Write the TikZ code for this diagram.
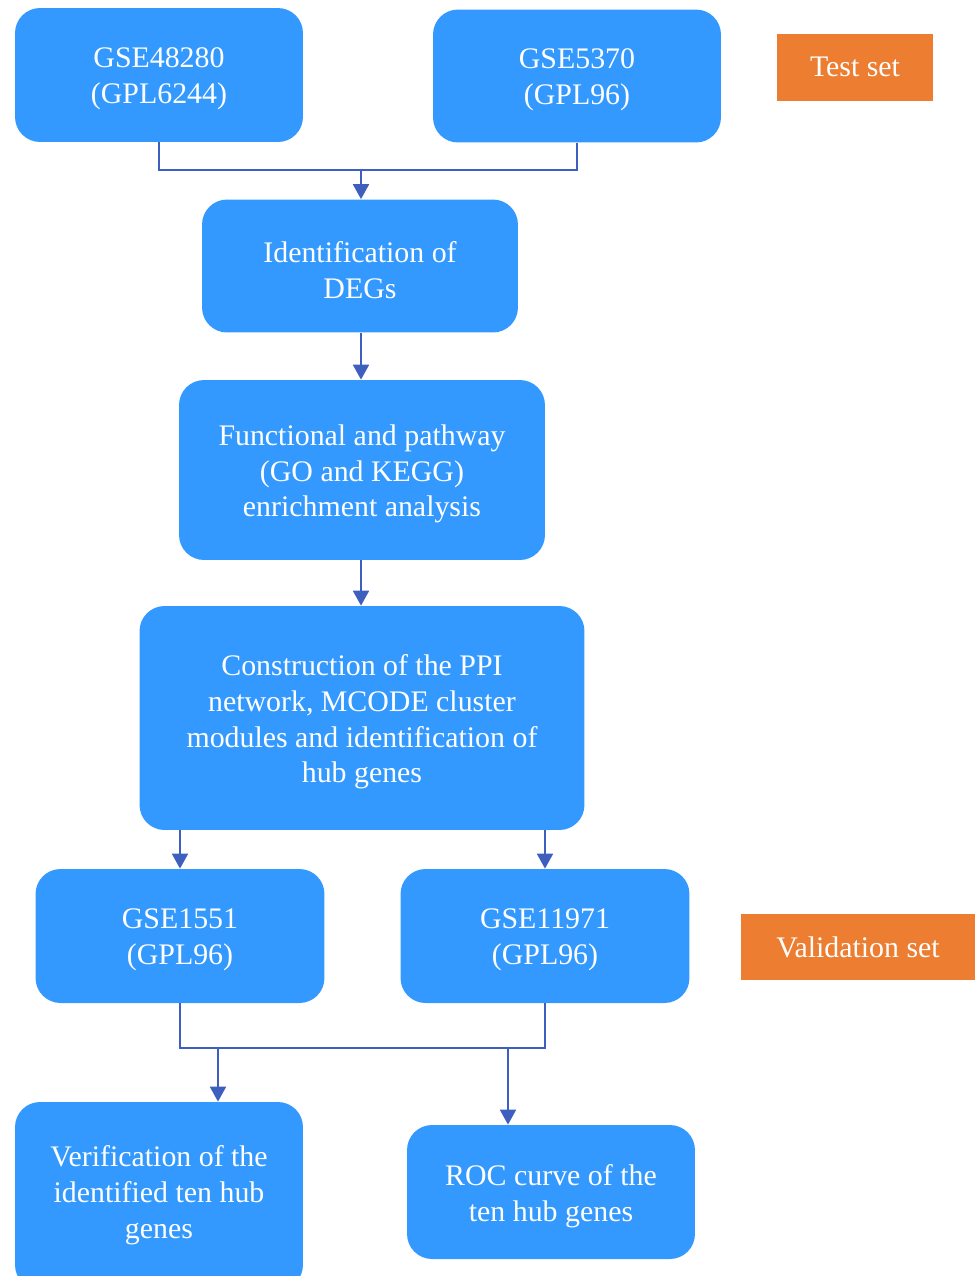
\documentclass[tikz,border=0pt]{standalone}
\usepackage{fontspec}
\setmainfont{Liberation Serif}
\usetikzlibrary{arrows.meta}
\definecolor{boxblue}{HTML}{3399FF}
\definecolor{lineblue}{HTML}{3F5FBF}
\definecolor{setorange}{HTML}{ED7D31}
\begin{document}
\begin{tikzpicture}[x=0.02cm,y=-0.02cm,
  bbox/.style={fill=boxblue,draw=none,rounded corners=0.5cm,inner sep=0pt},
  lbl/.style={text=white,align=center,font=\fontsize{17}{20.4}\selectfont,yshift=-2.2pt,inner sep=0pt},
  sbox/.style={fill=setorange,draw=none,text=white,align=center,
    font=\fontsize{17}{20.4}\selectfont,inner sep=0pt},
  conn/.style={draw=lineblue,line width=1.3pt},
  arr/.style={conn,-{Triangle[width=9pt,length=8.5pt]}}]
\useasboundingbox (0,0) rectangle (975,1276);
\node[bbox,minimum width=5.76cm,minimum height=2.68cm,label={[lbl]center:{GSE48280\\(GPL6244)}}] (g1) at (159,75) {};
\node[bbox,minimum width=5.76cm,minimum height=2.66cm,label={[lbl]center:{GSE5370\\(GPL96)}}] (g2) at (577,76) {};
\node[sbox,minimum width=3.12cm,minimum height=1.34cm] (ts) at (855,67) {Test set};
\node[bbox,minimum width=6.32cm,minimum height=2.66cm,label={[lbl]center:{Identification of\\DEGs}}] (deg) at (360,266) {};
\node[bbox,minimum width=7.32cm,minimum height=3.6cm,label={[lbl]center:{Functional and pathway\\(GO and KEGG)\\enrichment analysis}}] (fun) at (362,470) {};
\node[bbox,minimum width=8.9cm,minimum height=4.48cm,label={[lbl]center:{Construction of the PPI\\network, MCODE cluster\\modules and identification of\\hub genes}}] (ppi) at (362,718) {};
\node[bbox,minimum width=5.78cm,minimum height=2.68cm,label={[lbl]center:{GSE1551\\(GPL96)}}] (g3) at (180,936) {};
\node[bbox,minimum width=5.78cm,minimum height=2.68cm,label={[lbl]center:{GSE11971\\(GPL96)}}] (g4) at (545,936) {};
\node[sbox,minimum width=4.68cm,minimum height=1.32cm] (vs) at (858,947) {Validation set};
\node[bbox,minimum width=5.76cm,minimum height=3.76cm,label={[lbl,yshift=2.8pt]center:{Verification of the\\identified ten hub\\genes}}] (ver) at (159,1196) {};
\node[bbox,minimum width=5.76cm,minimum height=2.68cm,label={[lbl]center:{ROC curve of the\\ten hub genes}}] (roc) at (551,1192) {};
% connectors
\draw[conn] (g1.south) -- ++(0,28) -| (g2.south);
\coordinate (j1) at (361,170);
\draw[arr] (j1) -- (j1 |- deg.north);
\draw[arr] (deg.south -| j1) -- (fun.north -| j1);
\draw[arr] (fun.south -| j1) -- (ppi.north -| j1);
\draw[arr] (ppi.south -| g3.north) -- (g3.north);
\draw[arr] (ppi.south -| g4.north) -- (g4.north);
\draw[conn] (g3.south) -- ++(0,45) -| (g4.south);
\coordinate (j2) at (218,1048);
\coordinate (j3) at (508,1048);
\draw[arr] (j2) -- (j2 |- ver.north);
\draw[arr] (j3) -- (j3 |- roc.north);
\end{tikzpicture}
\end{document}
